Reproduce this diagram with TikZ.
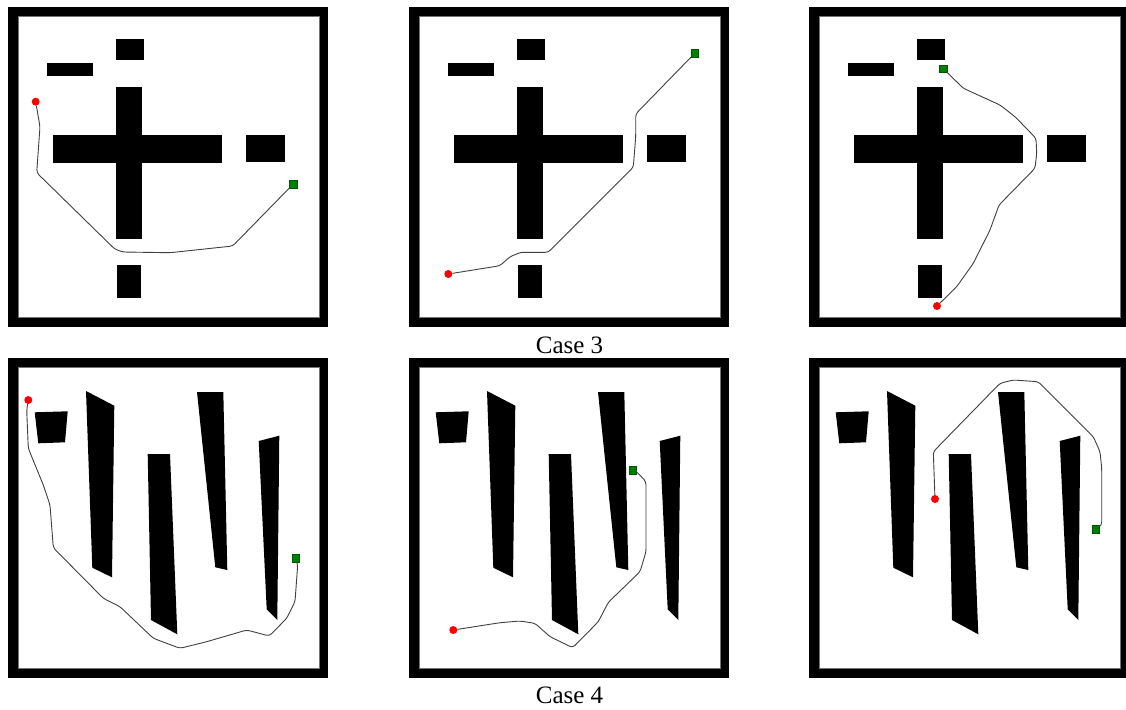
\documentclass[tikz,border=0pt]{standalone}
\usepackage{fontspec}
\setmainfont{Liberation Serif}
\tikzset{
  route/.style={line width=0.9pt, draw=black!75, rounded corners=3pt},
  startdot/.style={circle, fill=red, inner sep=0pt, minimum size=8pt},
  goalsq/.style={rectangle, fill=green!50!black, draw=green!35!black, line width=0.4pt, inner sep=0pt, minimum size=7.5pt},
  obst/.style={fill=black},
  caption/.style={font=\fontsize{25}{30}\selectfont, anchor=base}
}
\newcommand\panelframe[1]{%
  \fill[black] (0,0) rectangle (#1,320);
  \filldraw[fill=white, draw=black!55, line width=0.5pt] (10,9.5) rectangle (311.5,310);
}
\newcommand\mapcross{%
  \fill[obst] (107.7,32) rectangle (136.3,53.3);
  \fill[obst] (39.3,56.3) rectangle (85.3,69);
  \fill[obst] (107.7,80) rectangle (134.3,232);
  \fill[obst] (44.7,128) rectangle (214.3,156.3);
  \fill[obst] (238,128) rectangle (277.3,155.3);
  \fill[obst] (108.7,258) rectangle (133.3,290.7);
}
\newcommand\mappoles{%
  \fill[obst] (26.7,54.3) -- (59.7,53.3) -- (57,84.3) -- (30.3,85.3) -- cycle;
  \fill[obst] (78,33) -- (106.3,47.7) -- (104,219.3) -- (84.3,209.7) -- cycle;
  \fill[obst] (139.7,96) -- (162,96) -- (169.3,276.3) -- (143,262) -- cycle;
  \fill[obst] (189,34) -- (215.3,34) -- (219.3,212) -- (207.3,209.3) -- cycle;
  \fill[obst] (250.7,83) -- (271.3,77.7) -- (269.3,262) -- (258.7,251.3) -- cycle;
}
\begin{document}
\begin{tikzpicture}[x=1pt,y=-1pt]
\useasboundingbox (0,0) rectangle (1126,709);
\fill[white] (0,0) rectangle (1126,709);

% Panel 1
\begin{scope}[shift={(8,7)}]
  \panelframe{320}
  \mapcross
  \node[startdot] (s1) at (27.7,94.7) {};
  \node[goalsq] (g1) at (285.3,177) {};
  \draw[route] (s1) -- (32,119.7) -- (28.7,165.7) -- (107,242.3) -- (115,245) -- (162,245.7) -- (224.7,239) -- (g1);
\end{scope}

% Panel 2
\begin{scope}[shift={(409,7)}]
  \panelframe{320}
  \mapcross
  \node[startdot] (s2) at (39.3,267) {};
  \node[goalsq] (g2) at (285.7,46.3) {};
  \draw[route] (s2) -- (91,258.7) -- (101,249.7) -- (111.7,245.3) -- (139.3,245.3) -- (224.3,160.3) -- (226.7,129.7) -- (226.7,107) -- (g2);
\end{scope}

% Panel 3
\begin{scope}[shift={(809,7)}]
  \panelframe{317}
  \mapcross
  \node[startdot] (s3) at (128,299) {};
  \node[goalsq] (g3) at (134.3,61.7) {};
  \draw[route] (s3) -- (147.7,279.7) -- (164.3,256.3) -- (181,223) -- (190,198) -- (226,161.3) -- (227.7,146.3) -- (227,131.3) -- (206,109.7) -- (191,98) -- (154.3,81.3) -- (g3);
\end{scope}

% Panel 4
\begin{scope}[shift={(8,358)}]
  \panelframe{320}
  \mappoles
  \node[startdot] (s4) at (20.3,42) {};
  \node[goalsq] (g4) at (287.7,200.3) {};
  \draw[route] (s4) -- (18.7,52) -- (20.3,90.3) -- (35.3,127) -- (42,147) -- (45.3,189.7) -- (95.3,240.3) -- (112,248.7) -- (145.3,280.3) -- (172,290.3) -- (198.7,283.7) -- (238.7,272) -- (261.3,278) -- (278.7,260.3) -- (287,243.7) -- (289.7,207) -- (g4);
\end{scope}

% Panel 5
\begin{scope}[shift={(409,358)}]
  \panelframe{320}
  \mappoles
  \node[startdot] (s5) at (44.3,272) {};
  \node[goalsq] (g5) at (223.7,112) {};
  \draw[route] (s5) -- (91,264.7) -- (111,263) -- (126,265.3) -- (141,278.7) -- (163.7,289.7) -- (189.3,263.7) -- (199.3,244.3) -- (231,213.7) -- (237,193.7) -- (237,123.7) -- (227.7,113.7) -- (g5);
\end{scope}

% Panel 6
\begin{scope}[shift={(809,358)}]
  \panelframe{317}
  \mappoles
  \node[startdot] (s6) at (126,141) {};
  \node[goalsq] (g6) at (286.7,171.3) {};
  \draw[route] (s6) -- (124.3,93.7) -- (191,25.3) -- (204.3,22) -- (229.3,23.7) -- (234.3,28.7) -- (284.3,78.7) -- (291,93.7) -- (292.7,110.3) -- (292.7,167) -- (g6);
\end{scope}

\node[caption] (c3) at (569.5,353) {Case 3};
\node[caption] (c4) at (569.5,703) {Case 4};
\end{tikzpicture}
\end{document}
